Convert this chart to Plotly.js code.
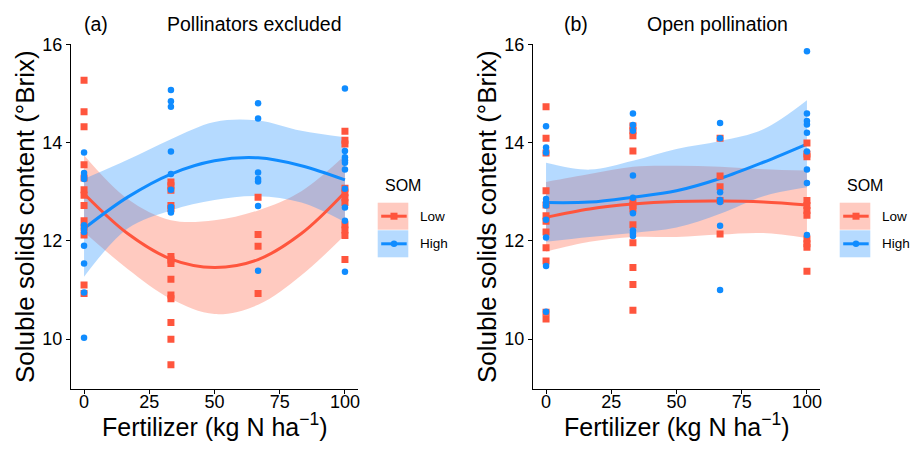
<!DOCTYPE html>
<html>
<head>
<meta charset="utf-8">
<script src="https://cdn.plot.ly/plotly-3.0.1.min.js"></script>
<style>
  html, body { margin: 0; padding: 0; background: #fff; }
  #chart { width: 910px; height: 450px; }
</style>
</head>
<body>
<div id="chart"></div>
<script>
// ---------------- data ----------------
const fertLevels = [0, 33.3, 66.7, 100];
const xTicks = [0, 25, 50, 75, 100];
const yTicks = [10, 12, 14, 16];
const groups = ["Low", "High"];
const panelTitles = ["Pollinators excluded", "Open pollination"];
const panelTags = ["(a)", "(b)"];

// (a) Pollinators excluded: observed values at each fertilizer level
const aLowVals = [
  [15.27, 14.63, 14.32, 13.55, 13.28, 13.04, 12.93, 12.72, 12.41, 12.27, 12.12, 11.10, 10.93],
  [13.20, 13.12, 13.03, 12.72, 12.66, 11.68, 11.61, 11.54, 11.22, 10.90, 10.82, 10.34, 10.00, 9.48],
  [12.89, 12.13, 11.89, 10.93],
  [14.23, 14.05, 13.97, 13.07, 12.98, 12.88, 12.78, 12.33, 12.22, 12.11, 11.62]
];
const aHighVals = [
  [13.80, 13.38, 13.30, 13.26, 12.32, 12.25, 12.18, 11.90, 11.54, 10.95, 10.03],
  [15.07, 14.84, 14.73, 13.82, 13.36, 13.04, 12.69, 12.62, 12.58],
  [14.80, 14.49, 13.39, 13.26, 13.21, 12.71, 11.39],
  [15.10, 13.83, 13.70, 13.64, 13.59, 13.45, 13.06, 12.68, 12.41, 11.37]
];
// (b) Open pollination
const bLowVals = [
  [14.73, 14.09, 13.79, 13.02, 12.73, 12.51, 12.40, 12.18, 11.86, 11.59, 10.55, 10.41],
  [14.34, 14.24, 14.14, 13.83, 12.79, 12.72, 12.65, 12.33, 11.96, 11.46, 11.11, 10.59],
  [14.09, 13.32, 13.10, 12.82, 12.14],
  [13.99, 13.77, 13.71, 12.82, 12.72, 12.62, 12.52, 12.04, 11.94, 11.87, 11.38]
];
const bHighVals = [
  [14.33, 13.90, 13.80, 12.85, 12.78, 12.72, 12.43, 12.07, 11.49, 10.56],
  [14.59, 14.36, 14.24, 13.33, 12.88, 12.56, 12.21, 12.15, 12.10],
  [14.40, 14.09, 12.99, 12.83, 12.79, 12.31, 11.00],
  [15.86, 14.59, 14.44, 14.37, 14.20, 13.82, 13.45, 13.18, 12.12]
];

// fitted smooth curves and confidence bands
const fitX = [0, 16.7, 33.3, 50, 66.7, 83.3, 100];
const aLowFit  = [12.96, 12.15, 11.63, 11.46, 11.62, 12.15, 12.99];
const aLowUp   = [13.74, 12.85, 12.42, 12.42, 12.62, 13.01, 13.74];
const aLowLo   = [12.18, 11.43, 10.82, 10.51, 10.70, 11.30, 12.12];
const aHighFit = [12.25, 12.89, 13.36, 13.63, 13.69, 13.53, 13.24];
const aHighUp  = [13.26, 13.65, 14.07, 14.42, 14.45, 14.24, 14.11];
const aHighLo  = [11.27, 12.25, 12.62, 12.83, 12.91, 12.78, 12.38];

const bLowFit  = [12.48, 12.65, 12.75, 12.80, 12.81, 12.79, 12.73];
const bLowUp   = [13.20, 13.36, 13.51, 13.53, 13.51, 13.46, 13.43];
const bLowLo   = [11.78, 11.98, 12.08, 12.08, 12.13, 12.16, 12.06];
const bHighFit = [12.78, 12.79, 12.89, 13.02, 13.27, 13.60, 13.97];
const bHighUp  = [13.59, 13.45, 13.63, 13.87, 14.03, 14.27, 14.86];
const bHighLo  = [11.98, 12.08, 12.16, 12.27, 12.55, 12.91, 13.09];

// ---------------- styling ----------------
const FONT = "Liberation Sans, Arial, Helvetica, sans-serif";
const RED = "#FF553D";
const BLUE = "#108CFF";
const RED_FILL = "rgba(255,99,71,0.34)";
const BLUE_FILL = "rgba(30,144,255,0.33)";
const W = 910, H = 450;
const px = v => v / W;
const py = v => 1 - v / H;

function expand(vals) {
  const xs = [], ys = [];
  vals.forEach((arr, i) => arr.forEach(v => { xs.push(fertLevels[i]); ys.push(v); }));
  return { xs, ys };
}

function panelTraces(xa, ya, lowVals, highVals, lf, lu, ll, hf, hu, hl) {
  const t = [];
  const band = (lo, up, fill) => {
    t.push({ x: fitX, y: lo, xaxis: xa, yaxis: ya, mode: "lines", type: "scatter",
      line: { width: 0, shape: "spline", smoothing: 1, color: "rgba(0,0,0,0)" },
      hoverinfo: "skip", showlegend: false });
    t.push({ x: fitX, y: up, xaxis: xa, yaxis: ya, mode: "lines", type: "scatter",
      fill: "tonexty", fillcolor: fill,
      line: { width: 0, shape: "spline", smoothing: 1, color: "rgba(0,0,0,0)" },
      hoverinfo: "skip", showlegend: false });
  };
  band(ll, lu, RED_FILL);
  band(hl, hu, BLUE_FILL);
  t.push({ x: fitX, y: lf, xaxis: xa, yaxis: ya, mode: "lines", type: "scatter",
    line: { width: 3, color: RED, shape: "spline", smoothing: 1 }, showlegend: false });
  t.push({ x: fitX, y: hf, xaxis: xa, yaxis: ya, mode: "lines", type: "scatter",
    line: { width: 3, color: BLUE, shape: "spline", smoothing: 1 }, showlegend: false });
  const lp = expand(lowVals), hp = expand(highVals);
  t.push({ x: lp.xs, y: lp.ys, xaxis: xa, yaxis: ya, mode: "markers", type: "scatter",
    name: groups[0],
    marker: { symbol: "square", size: 7, color: RED, line: { width: 0 } }, showlegend: false });
  t.push({ x: hp.xs, y: hp.ys, xaxis: xa, yaxis: ya, mode: "markers", type: "scatter",
    name: groups[1],
    marker: { symbol: "circle", size: 6.5, color: BLUE, line: { width: 0 } }, showlegend: false });
  return t;
}

const data = [].concat(
  panelTraces("x", "y", aLowVals, aHighVals, aLowFit, aLowUp, aLowLo, aHighFit, aHighUp, aHighLo),
  panelTraces("x2", "y2", bLowVals, bHighVals, bLowFit, bLowUp, bLowLo, bHighFit, bHighUp, bHighLo)
);

function xAxis(dom, anchor) {
  return { domain: dom, anchor: anchor, range: [-5, 105], tickvals: xTicks,
    ticktext: xTicks.map(String), ticks: "outside", ticklen: 4, tickwidth: 1,
    tickcolor: "#000", showline: true, linecolor: "#000", linewidth: 1,
    showgrid: false, zeroline: false, fixedrange: true, ticklabelstandoff: -8,
    tickfont: { family: FONT, size: 18, color: "#000" } };
}
function yAxis(dom, anchor) {
  return { domain: dom, anchor: anchor, range: [8.98, 16.0], tickvals: yTicks,
    ticktext: yTicks.map(String), ticks: "outside", ticklen: 4, tickwidth: 1,
    tickcolor: "#000", showline: true, linecolor: "#000", linewidth: 1,
    showgrid: false, zeroline: false, fixedrange: true,
    tickfont: { family: FONT, size: 18, color: "#000" } };
}

const yDom = [py(389.3), py(44.3)];
const panels = [
  { left: 71, right: 358, off: 0 },
  { left: 533, right: 820, off: 462 }
];

const annotations = [];
const shapes = [];
panels.forEach((p, i) => {
  const cx = (p.left + p.right) / 2;
  annotations.push({ xref: "paper", yref: "paper", x: px(i === 0 ? 82 : 562), y: py(24),
    xanchor: "left", yanchor: "middle", text: panelTags[i], showarrow: false,
    font: { family: FONT, size: 19.5, color: "#000" } });
  annotations.push({ xref: "paper", yref: "paper", x: px(i === 0 ? 254.5 : 717.5), y: py(24),
    xanchor: "center", yanchor: "middle", text: panelTitles[i], showarrow: false,
    font: { family: FONT, size: 19.5, color: "#000" } });
  annotations.push({ xref: "paper", yref: "paper", x: px(25.5 + p.off), y: py(216.5),
    xanchor: "center", yanchor: "middle", text: "Soluble solids content (°Brix)",
    textangle: -90, showarrow: false, font: { family: FONT, size: 26, color: "#000" } });
  annotations.push({ xref: "paper", yref: "paper", x: px(cx), y: py(425),
    xanchor: "center", yanchor: "middle", text: "Fertilizer (kg N ha<sup>−1</sup>)",
    showarrow: false, font: { family: FONT, size: 25, color: "#000" } });
  // legend
  const lx = 377.7 + p.off;
  annotations.push({ xref: "paper", yref: "paper", x: px(lx + 5), y: py(185),
    xanchor: "left", yanchor: "middle", text: "SOM", showarrow: false,
    font: { family: FONT, size: 16, color: "#000" } });
  const rows = [
    { y0: 202.7, y1: 229.7, fill: RED_FILL, col: RED, sym: "rect", label: groups[0] },
    { y0: 230.3, y1: 257.3, fill: BLUE_FILL, col: BLUE, sym: "circle", label: groups[1] }
  ];
  rows.forEach(r => {
    const cy = (r.y0 + r.y1) / 2;
    shapes.push({ type: "rect", xref: "paper", yref: "paper", x0: px(lx), x1: px(lx + 30.6),
      y0: py(r.y1), y1: py(r.y0), fillcolor: r.fill, line: { width: 0 } });
    shapes.push({ type: "line", xref: "paper", yref: "paper", x0: px(lx + 3.5), x1: px(lx + 29),
      y0: py(cy), y1: py(cy), line: { color: r.col, width: 3 } });
    const mr = r.sym === "rect" ? 3.5 : 3.25;
    shapes.push({ type: r.sym, xref: "paper", yref: "paper", x0: px(lx + 16.3 - mr), x1: px(lx + 16.3 + mr),
      y0: py(cy + mr), y1: py(cy - mr), fillcolor: r.col, line: { width: 0 } });
    annotations.push({ xref: "paper", yref: "paper", x: px(lx + 40.5), y: py(cy),
      xanchor: "left", yanchor: "middle", text: r.label, showarrow: false,
      font: { family: FONT, size: 13.5, color: "#000" } });
  });
});

const layout = {
  width: W, height: H,
  margin: { l: 0, r: 0, t: 0, b: 0 },
  paper_bgcolor: "#fff", plot_bgcolor: "#fff",
  showlegend: false,
  font: { family: FONT, color: "#000" },
  xaxis: xAxis([px(panels[0].left), px(panels[0].right)], "y"),
  yaxis: yAxis(yDom, "x"),
  xaxis2: xAxis([px(panels[1].left), px(panels[1].right)], "y2"),
  yaxis2: yAxis(yDom, "x2"),
  annotations: annotations,
  shapes: shapes
};

Plotly.newPlot("chart", data, layout, { staticPlot: true, displayModeBar: false });
</script>
</body>
</html>
